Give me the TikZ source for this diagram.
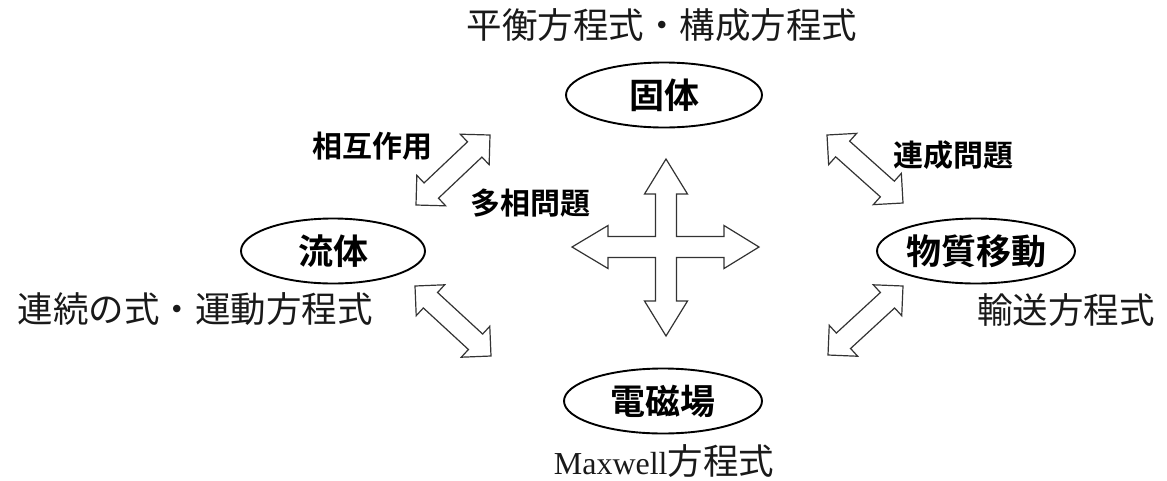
\documentclass[tikz,border=0pt]{standalone}
\usepackage{fontspec}
\setmainfont{Liberation Serif}
\newfontfamily\cjk{Noto Sans CJK JP}[BoldFont={Noto Sans CJK JP Bold}]
\usetikzlibrary{shapes.geometric,calc}
\tikzset{
  field/.style={ellipse, draw=black, line width=1.9pt, inner sep=0pt, minimum height=65pt,
    font=\cjk\bfseries\fontsize{35}{40}\selectfont},
  eqlabel/.style={inner sep=0pt, font=\cjk\fontsize{35.5}{38}\selectfont, text=black!90},
  rellabel/.style={inner sep=0pt, font=\cjk\bfseries\fontsize{30}{36}\selectfont},
  blockarrow/.style={draw=black!80, line width=1.2pt, fill=white, line join=miter},
}
\newcommand{\dblblock}[2]{%
  \draw[blockarrow] let \p1=(#1), \p2=(#2),
     \n1={atan2(\y2-\y1,\x2-\x1)}, \n4={atan2(\y2-\y1,\x2-\x1)+90},
     \n3={veclen(\x2-\x1,\y2-\y1)-21} in
   (\p1)
   -- ($(\p1)+(\n1:21pt)+(\n4:21pt)$)
   -- ($(\p1)+(\n1:21pt)+(\n4:10.5pt)$)
   -- ($(\p1)+(\n1:\n3)+(\n4:10.5pt)$)
   -- ($(\p1)+(\n1:\n3)+(\n4:21pt)$)
   -- (\p2)
   -- ($(\p1)+(\n1:\n3)+(\n4:-21pt)$)
   -- ($(\p1)+(\n1:\n3)+(\n4:-10.5pt)$)
   -- ($(\p1)+(\n1:21pt)+(\n4:-10.5pt)$)
   -- ($(\p1)+(\n1:21pt)+(\n4:-21pt)$)
   -- cycle;}
\begin{document}
\begin{tikzpicture}[x=1pt,y=-1pt]
\useasboundingbox (0,0) rectangle (1167,480);
% fields
\node[field, minimum width=196pt] (solid) at (664,95) {固体};
\node[field, minimum width=184pt] (fluid) at (333,251) {流体};
\node[field, minimum width=184pt] (mass) at (976,251) {物質移動};
\node[field, minimum width=198pt] (em) at (663,401) {電磁場};
% equation labels
\node[eqlabel] (solideq) at (662,25) {平衡方程式・構成方程式};
\node[eqlabel] (fluideq) at (195,309) {連続の式・運動方程式};
\node[eqlabel] (masseq) at (1066,310) {輸送方程式};
\node[eqlabel] (emeq) at (664,461) {{\rmfamily\fontsize{32}{38}\selectfont Maxwell}方程式};
% relation labels
\node[rellabel] (interact) at (372,146) {相互作用};
\node[rellabel] (multi) at (530,203) {多相問題};
\node[rellabel] (coupled) at (953,155) {連成問題};
% diagonal arrows
\coordinate (a1s) at (416,205); \coordinate (a1e) at (490,135);
\coordinate (a2s) at (827,135); \coordinate (a2e) at (903,203);
\coordinate (a3s) at (415,286); \coordinate (a3e) at (491,356);
\coordinate (a4s) at (828,355); \coordinate (a4e) at (903,286);
\dblblock{a1s}{a1e}
\dblblock{a2s}{a2e}
\dblblock{a3s}{a3e}
\dblblock{a4s}{a4e}
% central four-way arrow
\draw[blockarrow] (666,159) -- (687.5,194) -- (676.5,194) -- (676.5,236.5) -- (724,236.5)
  -- (724,225.5) -- (759,247) -- (724,268.5) -- (724,257.5) -- (676.5,257.5) -- (676.5,301)
  -- (687.5,301) -- (666,336) -- (644.5,301) -- (655.5,301) -- (655.5,257.5) -- (608,257.5)
  -- (608,268.5) -- (572,247) -- (608,225.5) -- (608,236.5) -- (655.5,236.5) -- (655.5,194)
  -- (644.5,194) -- cycle;
\end{tikzpicture}
\end{document}
